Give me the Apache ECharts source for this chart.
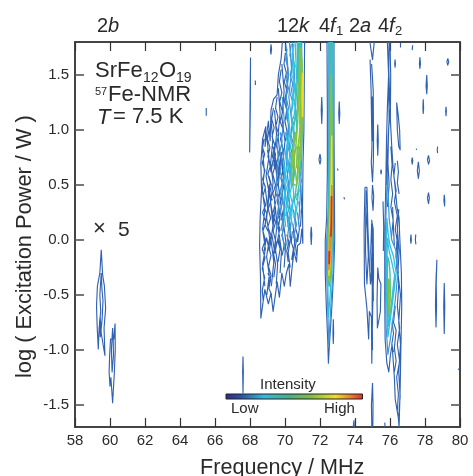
<!DOCTYPE html>
<html><head><meta charset="utf-8">
<style>html,body{margin:0;padding:0;background:#fff}#c{width:473px;height:476px}</style>
<script src="https://cdn.jsdelivr.net/npm/echarts@6/dist/echarts.min.js"></script>
</head><body><div id="c"></div>
<script>
const xTickStart = 58, xTickEnd = 80, xTickStep = 2;
const yTicks = [-1.5,-1,-0.5,0,0.5,1,1.5];
const xTitle = 'Frequency / MHz';
const yTitle = 'log ( Excitation Power / W )';
// contour lines per intensity level, flat lists: MHz, log power, MHz, log power ...
const levelBlue = [
 [68.03,1.66,68,1.2,67.98,.8,68.02,1.2,68.03,1.66],[69.2,1.78,69.17,1.72,69.2,1.69,69.23,1.74,69.2,1.78],[68.3,1.45,68.31,1.41],
 [72.1,1.3,72.07,1.18,72.1,1.06,72.13,1.18,72.1,1.3],[73.1,1.26,73.07,1.15,73.1,1.06,73.13,1.15,73.1,1.26],
 [72,.78,71.94,.73,72,.69,72.05,.73,72,.78],[73,.65,73.03,.63],[73.37,.39,73.4,.37],[71.5,.12,71.47,.05,71.5,-.04,71.53,.05,71.5,.12],
 [67.6,-1.06,67.58,-1.2,67.6,-1.39,67.62,-1.2,67.6,-1.06],[65.5,1.2,65.5,1.13],[66.08,1.17,66.12,1.17],[72.76,-.72,72.74,-.85,72.76,-.94,72.78,-.85,72.76,-.72],
 [72.4,1.8,72.42,1.2,72.42,.6,72.38,.2,72.3,0,72.3,-.3,72.36,-.6,72.44,-.9,72.48,-1.12,72.52,-1,72.68,-.6,72.78,-.3,72.84,0,72.82,.5,72.8,1,72.8,1.8],
 // 2b
 [59.5,-.09,59.42,-.3,59.28,-.42,59.23,-.6,59.27,-.8,59.33,-.99,59.38,-.8,59.44,-.7,59.5,-.85,59.71,-1.05,59.66,-.8,59.75,-.62,59.68,-.42,59.58,-.32,59.5,-.09],
 [59.5,-.3,59.42,-.5,59.47,-.65,59.4,-.75,59.45,-.88,59.5,-.8,59.55,-.72,59.6,-.55,59.54,-.45,59.5,-.3],
 [60.29,-.76,60.22,-.9,60.03,-.9,59.98,-1.05,59.88,-1.06,59.95,-1.2,60,-1.33,60.05,-1.25,60.15,-1.48,60.25,-1.2,60.3,-1,60.29,-.76],
 [60.15,-.8,60.08,-1,60.12,-1.2,60.2,-1.05,60.18,-.9,60.15,-.8],
 // 2a and 4f2 neighbours
 [74.85,1.8,75.0,1.64,75.1,1.8],[74.86,1.64,74.92,1.36,74.97,.85,74.93,.7,75,.53,75.05,.72,75.06,.9,75.04,1.36,74.95,1.6],[74.96,1.3,75,.9,75.02,1.3,74.96,1.3],
 [75,.5,74.97,.38,75.03,.27,75.07,.4,75,.5],[75.3,1.05,75.27,.9,75.3,.77,75.33,.9,75.3,1.05],[75.3,1,75.3,.8],[75.49,.64,75.47,.62,75.49,.6,75.51,.62,75.49,.64],
 [76.29,1.64,76.27,1.6,76.29,1.57,76.31,1.6,76.29,1.64],[76.6,1.79,76.6,1.75],[77.29,1.77,77.27,1.73,77.29,1.76],
 [77.71,1.66,77.68,1.6,77.71,1.56,77.74,1.6,77.71,1.66],[79.3,1.65,79.25,1.62,79.3,1.59,79.36,1.62,79.3,1.65],
 [78.1,1.5,78.06,1.4,78.1,1.33,78.13,1.4,78.1,1.5],[77.9,1.28,77.88,1.2,77.9,1.15,77.92,1.2,77.9,1.28],[79.2,1.21,79.18,1.17,79.2,1.13,79.22,1.17,79.2,1.21],
 [76.38,1.25,76.42,1,76.5,.85,76.58,.82,76.55,1,76.46,1.15,76.38,1.25],[78.72,.85,78.7,.82,78.72,.79],[77.5,.83,77.52,.82],
 [77.27,.75,77.24,.72,77.27,.69,77.3,.72,77.27,.75],[78.2,.77,78.14,.73,78.2,.69,78.26,.72,78.2,.77],[77.62,.71,77.56,.63,77.62,.56,77.68,.63,77.62,.71],
 [78.2,.43,78.14,.38,78.2,.33,78.25,.38,78.2,.43],[79.1,.41,79.08,.36,79.12,.31,79.13,.36,79.1,.41],
 [74.57,.48,74.52,.1,74.54,-.4,74.68,-.62,74.78,-.9,74.82,-.65,74.94,-.7,74.96,-1.12,75,-.7,75.06,-.3,75.04,.1,74.95,.18,75,.1,74.98,-.2,74.88,-.4,74.82,-.2,74.74,.1,74.68,.48,74.57,.48],
 [74.62,.3,74.6,-.1,74.68,-.4,74.76,-.15,74.7,.1,74.62,.3],[74.65,.45,74.62,.2],[74.95,.15,74.9,-.1,74.95,-.35,75.05,-.55,75.02,-.2,74.95,.15],[75,-.1,74.98,-.6,75,-1],
 [75.3,-.25,75.26,-.55,75.28,-.8,75.45,-.65,75.48,-.4,75.36,-.35,75.3,-.25],[75,-1.3,74.94,-1.5,74.96,-1.7],[75.02,-1.7,75.03,-1.5,75,-1.3],[75.7,-1.66,75.72,-1.7],[73.94,-1.64,73.9,-1.7],[73.96,-1.7,73.94,-1.64],
 [77.2,.05,77.17,0,77.2,-.03,77.22,0,77.2,.05],[77.47,.05,77.45,0,77.48,-.04],[78.68,-.18,78.62,-.4,78.6,-.6,78.63,-.79,78.66,-.6,78.64,-.4,78.68,-.18],
 [79.1,-.39,79.07,-.6,79.1,-.85,79.13,-.6,79.1,-.39],[79.9,-1.17,79.92,-1.18],
 // 4f2 main column
 [75.85,1.8,75.92,1.5,75.85,1.2,75.8,.9,75.76,.5,75.72,.2,75.7,-.1,75.7,-.5,75.72,-.9,75.82,-1.12,75.93,-1.2,76.02,-1.05,76.12,-.95,76.25,-1.25,76.3,-1.45,76.48,-1.62,76.52,-1.7,76.6,-1.7,76.58,-1.35,76.62,-1,76.67,-.6,76.65,-.3,76.55,.05,76.52,.2,76.4,.3,76.28,.5,76.18,.65,76.1,.85,76.02,1.1,76.04,1.5,76,1.8],
 [75.9,1.7,75.96,1.4,76.02,1.2,75.92,1,75.88,.7,75.95,.5,75.85,.3],[75.95,1.8,75.92,1.45,75.95,1.1,75.86,.8,75.82,.5],[76.05,.85,76.12,.68,76.05,.55,76.15,.42,76.05,.3,76.18,.18,76.08,.02],
 [76.3,.7,76.22,.58,76.35,.45,76.25,.35,76.42,.22,76.3,.1,76.45,-.05,76.38,-.25,76.5,-.4,76.42,-.6,76.55,-.8,76.42,-.95,76.55,-1.1,76.38,-1.25,76.48,-1.4,76.42,-1.55],
 [76.42,.72,76.48,.62,76.42,.52,76.52,.42],[76.5,.28,76.42,.1,76.52,-.1,76.45,-.3,76.6,-.5,76.5,-.75,76.6,-.95,76.5,-1.2,76.58,-1.42,76.5,-1.6],
 [76.15,.3,76.2,.1,76.25,-.05],[76.3,-.6,76.2,-.75,76.35,-.82,76.25,-.98,76.35,-1.1,76.25,-1.2],[76.12,-.75,76.2,-.85,76.1,-.95,76.2,-1.02],
 [75.6,.35,75.64,.12,75.62,-.1],[76.42,.05,76.34,-.15,76.48,-.3],
 // 12k outline and mesh
 [71.12,1.8,71.1,1.4,71.08,1,71.03,.7,71,.3,71.02,-.03,70.96,.1,70.88,-.03,70.72,-.05,70.66,-.2,70.5,-.1,70.3,-.42,70.22,-.22,70.08,-.3,69.96,-.42,69.82,-.3,69.68,-.52,69.55,-.38,69.32,-.65,69.2,-.48,69.05,-.58,68.85,-.45,68.62,-.71,68.6,-.35,68.55,-.05,68.58,.2,68.66,.45,68.62,.7,68.72,.92,68.9,1.03,68.86,.85,69.05,1.08,69.15,.9,69.2,1.18,69.35,1.28,69.55,1.32,69.62,1.5,69.78,1.65,69.85,1.8],
 [68.72,.82,68.82,.62,68.7,.45,68.85,.28,68.72,.1,68.88,-.08,68.72,-.22,68.85,-.42],[68.95,.96,69.08,.75,68.92,.58,69.1,.42,68.95,.2,69.12,.02,68.95,-.15,69.1,-.32,68.96,-.5],
 [69.2,1.1,69.3,.9,69.18,.7,69.32,.52,69.18,.34,69.35,.18,69.2,0,69.36,-.2,69.22,-.42],[69.4,1.18,69.52,.95,69.38,.78,69.55,.55,69.4,.35,69.55,.15,69.42,-.05,69.58,-.22,69.5,-.4],
 [69.62,1.38,69.72,1.15,69.6,.95,69.75,.72,69.62,.5,69.78,.3,69.62,.1,69.8,-.1,69.72,-.3],[69.82,1.6,69.95,1.35,69.82,1.12,70,.9,69.85,.65,70.02,.4,69.88,.2,70.05,-.02,69.95,-.25],
 [70.05,1.75,70.18,1.5,70.04,1.3,70.15,1.08],[70.22,.2,70.32,.02,70.18,-.12,70.3,-.25],[70.45,.15,70.55,-.02,70.45,-.2],[70.72,.25,70.82,.1,70.72,-.02],[70.9,.5,70.96,.3,70.88,.12],
 [68.85,.5,69,.3,69.1,.5,69.2,.3,69.32,.12,69.45,.3,69.55,.1],[68.8,-.1,68.95,.02,69.1,-.1,69.25,.05,69.42,-.12,69.6,.02,69.8,-.1],[69,.82,69.2,.62,69.4,.8,69.6,.6,69.78,.8,69.95,.55],
 // finer 12k mesh
 [68.8,.92,68.72,.84,68.84,.78,68.7,.7,68.86,.63,68.72,.55,68.88,.48,68.74,.4,68.9,.32,68.72,.25,68.9,.16,68.74,.08,68.88,0,68.7,-.08,68.86,-.16,68.7,-.26,68.84,-.34,68.7,-.46,68.76,-.56],
 [69.1,1.02,69.0,.92,69.14,.84,69.02,.76,69.18,.68,69.02,.6,69.16,.52,69.04,.44,69.2,.36,69.04,.28,69.18,.2,69.02,.12,69.2,.04,69.06,-.06,69.2,-.14,69.06,-.24,69.2,-.32,69.06,-.42],
 [69.34,1.2,69.24,1.1,69.38,1.02,69.26,.94,69.42,.86,69.28,.76,69.44,.68,69.3,.6,69.46,.5,69.3,.42,69.46,.34,69.3,.24,69.46,.16,69.32,.08,69.48,-.02,69.34,-.12,69.46,-.22,69.36,-.34],
 [69.55,1.3,69.46,1.2,69.6,1.12,69.48,1.04,69.64,.96,69.5,.86,69.66,.78,69.52,.7,69.66,.62,69.54,.52,69.7,.44,69.54,.36,69.7,.26,69.56,.18,69.7,.1,69.58,0,69.72,-.08,69.6,-.2],
 [69.78,1.55,69.68,1.44,69.82,1.34,69.7,1.26,69.86,1.16,69.72,1.08,69.9,1,69.74,.92,69.9,.82,69.76,.74,69.92,.66,69.76,.56,69.92,.48,69.78,.38,69.94,.3,69.8,.2,69.94,.12,69.82,.04,69.96,-.04,69.84,-.14],
 [70.02,1.7,69.94,1.6,70.08,1.52,69.96,1.44,70.1,1.36,69.96,1.26,70.1,1.18,70,1.08,70.12,.98,70.02,.9],[70.1,.05,70.22,-.02,70.1,-.1,70.18,-.2],[70.42,.08,70.36,-.02,70.48,-.08,70.38,-.18],[70.62,.1,70.72,.04,70.6,-.05,70.66,-.14],
 [69.08,.58,69.22,.5,69.12,.42,69.28,.36],[68.8,.3,68.96,.24,68.86,.14,69.02,.08],[69.5,.42,69.66,.34,69.58,.24,69.74,.18],[69.3,.85,69.46,.78,69.36,.68,69.54,.62],[69.02,-.3,69.18,-.36,69.08,-.44,69.24,-.5]
];
const levelSky = [
 [72.5,1.8,72.5,1,72.48,.3,72.38,0,72.38,-.3,72.44,-.6,72.5,-.95,72.62,-.6,72.74,-.3,72.78,0,72.76,.6,72.74,1.2,72.72,1.8],
 [75.85,.6,75.78,.3,75.74,0,75.74,-.4,75.78,-.8,75.88,-1.04,76.02,-.9,76.3,-.55,76.45,-.3,76.35,-.1,76.1,0,75.95,.2,75.85,.6],
 [69.85,1.3,69.95,1.1,69.8,.9,70,.65,69.82,.45,69.98,.25,69.85,.05,70,-.1],[70.05,1.78,70.2,1.5,70.05,1.25,70.22,1,70.05,.75,70.2,.5,70.05,.3,70.2,.1,70.1,-.05],
 [70.25,1.8,70.38,1.55,70.22,1.3,70.4,1.05,70.25,.85,70.32,.6,70.22,.4,70.36,.18,70.26,.02],[69.5,.95,69.62,.72,69.5,.5,69.65,.3,69.52,.1],
 [70.42,1.8,70.55,1.5,70.42,1.25],[70.48,.28,70.6,.12,70.48,.02],[70.95,1.8,71,1.3,70.98,.9,70.9,.5,70.82,.25],
 [70.12,1.74,70.04,1.64,70.18,1.56,70.06,1.46,70.2,1.38,70.06,1.3,70.2,1.2,70.08,1.12,70.22,1.04,70.1,.94,70.24,.86,70.1,.76,70.26,.68,70.12,.58,70.26,.5,70.14,.4,70.28,.32,70.14,.24,70.28,.14,70.16,.06],
 [69.72,.98,69.84,.9,69.7,.8,69.84,.72,69.72,.62,69.86,.54,69.72,.44,69.86,.36,69.74,.26,69.88,.18,69.76,.08],
 [70.36,1.78,70.28,1.68,70.42,1.6,70.3,1.5,70.44,1.42,70.32,1.32,70.46,1.24,70.34,1.14,70.48,1.06,70.34,.96,70.46,.88,70.34,.78,70.44,.68,70.3,.58],
 [70.72,1.8,70.76,1.4,70.7,1.16],[70.55,.22,70.66,.14,70.54,.06,70.62,-.02],[70.78,.35,70.86,.26,70.76,.16],[70.86,.62,70.94,.54,70.84,.44]
];
const levelCyan = [
 [72.54,1.8,72.54,1,72.5,.4,72.44,0,72.44,-.3,72.48,-.7,72.58,-.5,72.68,-.25,72.72,0,72.71,.5,72.7,1.2,72.7,1.8],
 [75.82,.2,75.78,-.1,75.8,-.5,75.88,-.88,76.02,-.72,76.2,-.5,76.35,-.3,76.2,-.15,76,-.05,75.9,.05,75.82,.2],
 [75.85,.02,75.82,-.3,75.85,-.65,75.92,-.78,76.04,-.62,76.12,-.52,76.26,-.32,76.1,-.2,75.95,-.1,75.85,.02],
 [70.15,1.2,70.28,1,70.12,.78,70.3,.55,70.14,.35,70.28,.22,70.16,.12],[70.4,1.7,70.5,1.4,70.36,1.15,70.52,.9,70.35,.65,70.5,.42,70.38,.22],
 [70.58,1.8,70.66,1.5,70.56,1.25,70.65,1.1],[70.78,.45,70.68,.3,70.58,.2],[69.92,.72,70.02,.5,69.92,.3,70.04,.12],[70.88,1.8,70.93,1.4,70.92,1,70.86,.7,70.8,.55],
 [70.5,1.78,70.42,1.68,70.56,1.58,70.44,1.48,70.58,1.4,70.46,1.3,70.58,1.2,70.48,1.1],[70.24,.98,70.38,.9,70.26,.8,70.4,.7,70.26,.62,70.42,.52,70.28,.42,70.42,.34,70.3,.24,70.42,.14],
 [70.66,.42,70.52,.36,70.62,.28,70.5,.2],[70.02,.98,70.14,.88,70.02,.78,70.16,.7,70.02,.6,70.14,.5,70,.42,70.14,.32,70.04,.22]
];
const levelTeal = [
 [72.59,1.8,72.58,1,72.54,.5,72.48,.05,72.49,-.4,72.54,-.42,72.64,-.2,72.69,.05,72.7,.6,72.68,1.2,72.67,1.8],
 [75.86,-.15,75.84,-.45,75.9,-.7,76.02,-.5,76,-.3,75.95,-.2,75.86,-.15],
 [70.7,1.8,70.72,1.5,70.6,1.2,70.68,1,70.5,.85,70.55,.62,70.45,.5],[70.82,.85,70.72,.6,70.6,.42,70.5,.35],[70.82,1.8,70.86,1.4,70.85,1.05],
 [70.76,1.8,70.8,1.5,70.76,1.25,70.68,1.12],[70.9,.72,70.8,.5,70.66,.36],[70.58,.98,70.44,.82,70.5,.66,70.38,.5],[70.62,1.18,70.5,1.02,70.56,.92]
];
const levelGreen = [
 [72.63,1.5,72.61,.8,72.55,.35,72.5,.05,72.5,-.36,72.56,-.38,72.63,-.15,72.67,.05,72.68,.6,72.68,1.1,72.63,1.5],
 [75.92,-.35,75.9,-.55,75.97,-.68,76,-.5,75.98,-.38,75.92,-.35],
 [70.92,1.75,70.96,1.4,70.95,1.1,70.88,.85,70.78,.7,70.68,.5,70.6,.62,70.5,.7,70.62,.85,70.72,1.05,70.8,1.35,70.85,1.75],
 [70.88,1.7,70.9,1.35,70.88,1.1,70.8,.9,70.72,.78,70.66,.66,70.7,.85],[70.96,1.65,70.99,1.3,70.97,1,70.9,.72],
 [70.55,.82,70.42,.72,70.38,.58,70.5,.5,70.62,.5],[70.82,.95,70.72,.82,70.66,.68,70.76,.62],[70.62,.98,70.52,.88,70.44,.8,70.36,.68]
];
const levelYellow = [
 [72.67,.95,72.63,.4,72.56,.08,72.5,-.16,72.51,-.32,72.57,-.22,72.64,-.02,72.68,.2,72.67,.95],[71,1.52,70.97,1.3,71,1.12,71.02,1.3,71,1.52]
];
const levelOrange = [
 [72.67,.5,72.64,.2,72.56,.02,72.51,-.14,72.51,-.27,72.56,-.2,72.62,-.06,72.67,.1,72.67,.5]
];
const levelRed = [
 [72.66,.4,72.65,.14,72.62,.03],[72.53,-.1,72.52,-.22]
];
const levelColors = ['#2f62b3','#3d94d6','#2fc0e2','#42bda8','#84c341','#f2dc25','#f0872a','#e3262a'];
const levelWidths = [1.15,1.2,1.3,1.4,1.5,1.4,1.5,1.7];
const levels = [levelBlue,levelSky,levelCyan,levelTeal,levelGreen,levelYellow,levelOrange,levelRed];

function flatten(lines){
  const out=[];
  lines.forEach(l=>{for(let i=0;i<l.length;i+=2)out.push([l[i],l[i+1]]);out.push(['-','-']);});
  return out;
}
const series = levels.map((l,i)=>({
  type:'line',data:flatten(l),symbol:'none',connectNulls:false,animation:false,silent:true,
  lineStyle:{color:levelColors[i],width:levelWidths[i],join:'round'}
}));
const FF='"Liberation Sans",Arial,sans-serif', INK='#2a2a2a';
const T=(text,x,y,size,o={})=>({type:'text',silent:true,style:{text,x,y:y+size*0.2,font:`${o.it?'italic ':''}${size}px ${FF}`,fill:INK,verticalAlign:'bottom'}});
const axisCommon={axisLine:{show:true,onZero:false,lineStyle:{color:'#444',width:2}},splitLine:{show:false},
  axisTick:{show:true,inside:true,length:9,lineStyle:{color:'#333',width:1.2}}};
const option={
  animation:false,
  grid:{left:75,right:13,top:42,bottom:49},
  xAxis:[
   Object.assign({type:'value',min:xTickStart,max:xTickEnd,interval:xTickStep,position:'bottom',
     axisLabel:{show:true,fontFamily:FF,fontSize:15,color:INK,margin:6,showMaxLabel:true}},axisCommon),
   Object.assign({type:'value',min:xTickStart,max:xTickEnd,interval:xTickStep,position:'top',axisLabel:{show:false}},axisCommon)
  ],
  yAxis:[
   Object.assign({},axisCommon,{type:'value',min:-1.7,max:1.8,position:'left',
     axisTick:Object.assign({},axisCommon.axisTick,{customValues:yTicks,lineStyle:{color:'#555',width:1.6}}),
     axisLabel:{show:true,customValues:yTicks,formatter:v=>v.toFixed(1),fontFamily:FF,fontSize:15,color:INK,margin:6}}),
   Object.assign({},axisCommon,{type:'value',min:-1.7,max:1.8,position:'right',
     axisTick:Object.assign({},axisCommon.axisTick,{customValues:yTicks,lineStyle:{color:'#555',width:1.6}}),
     axisLabel:{show:false}})
  ],
  series,
  graphic:{elements:[
    T('2',97,32,20),T('b',108,32,20,{it:1}),
    T('12',277,32,20),T('k',299,32,20,{it:1}),
    T('4',319,32,20),T('f',330,32,20,{it:1}),T('1',336,35,13),
    T('2',349,32,20),T('a',360,32,20,{it:1}),
    T('4',378,32,20),T('f',389,32,20,{it:1}),T('2',395,35,13),
    T('SrFe',95,78,22),T('12',143,82,14),T('O',159,78,22),T('19',176,82,14),
    T('57',95,95,11),T('Fe-NMR',108,102,22),
    T('T',97,124,22,{it:1}),T('= 7.5 K',113,124,22),
    T('\u00d7',93,236,22),T('5',118,237,21),
    T('Intensity',260,389,15),T('Low',231,413,15),T('High',324,413,15),
    {type:'rect',silent:true,shape:{x:226,y:394,width:136.5,height:5},style:{
      fill:{type:'linear',x:0,y:0,x2:1,y2:0,colorStops:[
        {offset:0,color:'#2b2a80'},{offset:.12,color:'#2a55a8'},{offset:.28,color:'#2fbce0'},{offset:.45,color:'#45b08a'},
        {offset:.62,color:'#7fbf3f'},{offset:.8,color:'#f2dc25'},{offset:.9,color:'#f0872a'},{offset:1,color:'#e3262a'}]},
      stroke:'#222',lineWidth:1}},
    T(xTitle,200,475,21.6),
    {type:'text',silent:true,x:36,y:378,rotation:Math.PI/2,style:{text:yTitle,x:0,y:0,font:`21.8px ${FF}`,fill:INK,verticalAlign:'bottom'}}
  ]}
};
const chart=echarts.init(document.getElementById('c'),null,{renderer:'canvas'});
chart.setOption(option);
</script></body></html>
